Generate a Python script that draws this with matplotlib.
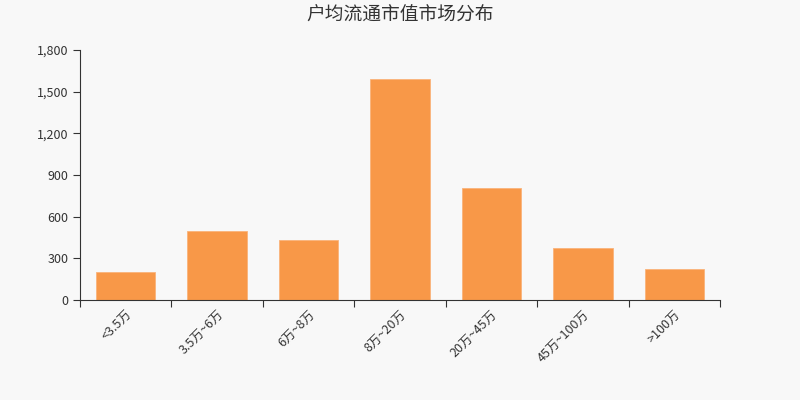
import matplotlib
matplotlib.use("Agg")
import matplotlib.pyplot as plt
from matplotlib.ticker import FuncFormatter, FixedLocator
import numpy as np

plt.rcParams['font.family'] = ['Noto Sans CJK SC', 'DejaVu Sans']

categories = ['<3.5万', '3.5万~6万', '6万~8万', '8万~20万', '20万~45万', '45万~100万', '>100万']
values = [200, 500, 435, 1590, 805, 374, 221]
yticks = [0, 300, 600, 900, 1200, 1500, 1800]

bg = '#f8f8f8'
fig = plt.figure(figsize=(8, 4), dpi=100, facecolor=bg)
ax = fig.add_axes([0.1, 0.25, 0.8, 0.625], facecolor=bg)

x = np.arange(len(categories))
ax.bar(x, values, width=0.65, color='#f89848', edgecolor='#fab37a', linewidth=0.6)

ax.set_xlim(-0.5, len(categories) - 0.5)
ax.set_ylim(0, 1800)
ax.set_yticks(yticks)
ax.yaxis.set_major_formatter(FuncFormatter(lambda v, p: f'{int(v):,}'))

ax.xaxis.set_major_locator(FixedLocator(np.arange(-0.5, len(categories), 1.0)))
ax.xaxis.set_major_formatter(FuncFormatter(lambda v, p: ''))
ax.set_xticks(x, minor=True)
ax.set_xticklabels(categories, minor=True, rotation=45, ha='right', rotation_mode='anchor')
ax.tick_params(axis='x', which='minor', length=0, pad=6, labelsize=9, labelcolor='#333333')
ax.tick_params(axis='x', which='major', length=5, color='#333333')
ax.tick_params(axis='y', length=5, labelsize=9, labelcolor='#333333', color='#333333')

for s in ['top', 'right']:
    ax.spines[s].set_visible(False)
for s in ['left', 'bottom']:
    ax.spines[s].set_color('#333333')

fig.text(0.5, 0.965, '户均流通市值市场分布', ha='center', va='center',
         fontsize=13.5, color='#333333')

fig.savefig('out.png', dpi=100, facecolor=bg)
